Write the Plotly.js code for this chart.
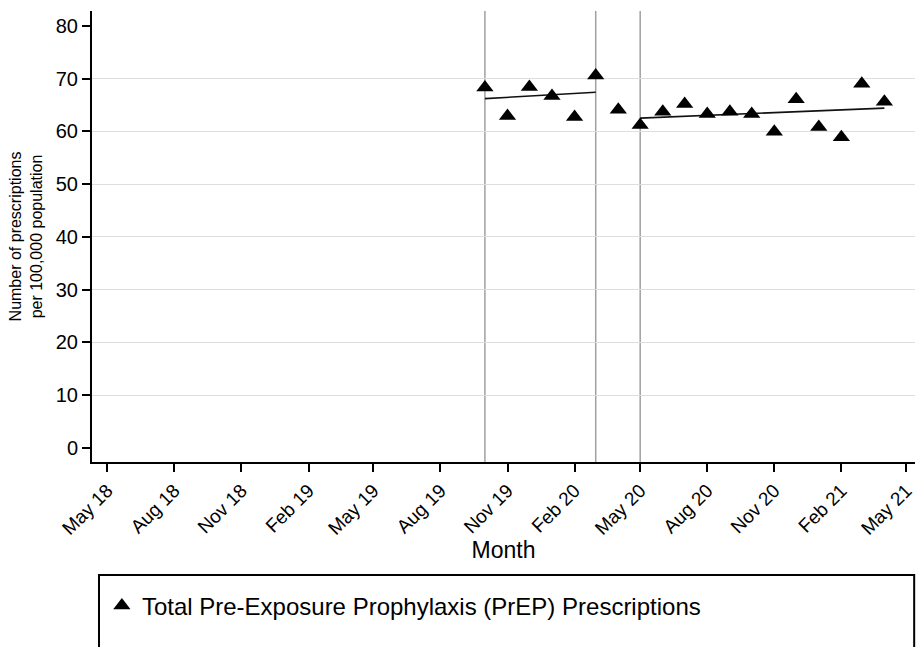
<!DOCTYPE html>
<html><head><meta charset="utf-8">
<script src="https://cdn.plot.ly/plotly-3.0.1.min.js"></script>
<style>html,body{margin:0;padding:0;background:#fff}#chart{width:916px;height:647px}</style>
</head><body><div id="chart"></div>
<script>
// ---- data ----
const months = ['2019-10-01','2019-11-01','2019-12-01','2020-01-01','2020-02-01','2020-03-01','2020-04-01',
  '2020-05-01','2020-06-01','2020-07-01','2020-08-01','2020-09-01','2020-10-01','2020-11-01','2020-12-01',
  '2021-01-01','2021-02-01','2021-03-01','2021-04-01'];
const prescriptions = [68.3, 62.9, 68.4, 66.7, 62.7, 70.6, 64.1, 61.2, 63.7, 65.2, 63.3, 63.7, 63.3, 59.9, 66.1,
  60.8, 58.9, 69.0, 65.6];
const trend1Months = ['2019-10-01','2020-03-01'];
const trend1Values = [66.2, 67.4];
const trend2Months = ['2020-05-01','2021-04-01'];
const trend2Values = [62.5, 64.4];
const interventionMonths = ['2019-10-01','2020-03-01','2020-05-01'];
const tickMonths = ['2018-05-01','2018-08-01','2018-11-01','2019-02-01','2019-05-01','2019-08-01','2019-11-01',
  '2020-02-01','2020-05-01','2020-08-01','2020-11-01','2021-02-01','2021-05-01'];
const tickLabels = ['May 18','Aug 18','Nov 18','Feb 19','May 19','Aug 19','Nov 19','Feb 20','May 20','Aug 20',
  'Nov 20','Feb 21','May 21'];
const yTicks = [0,10,20,30,40,50,60,70,80];
const gridTicks = [10,20,30,40,50,60,70];
const seriesName = 'Total Pre-Exposure Prophylaxis (PrEP) Prescriptions';

// ---- chart ----
const FONT = 'Liberation Sans, Arial, sans-serif';
const yRange = [-2.65, 82.8];
const traces = [
  {x: trend1Months, y: trend1Values, type: 'scatter', mode: 'lines', yaxis: 'y',
   line: {color: '#111', width: 1.6}, showlegend: false, hoverinfo: 'skip'},
  {x: trend2Months, y: trend2Values, type: 'scatter', mode: 'lines', yaxis: 'y',
   line: {color: '#111', width: 1.6}, showlegend: false, hoverinfo: 'skip'},
  {x: months, y: prescriptions, type: 'scatter', mode: 'markers', yaxis: 'y2', name: seriesName,
   marker: {symbol: 'triangle-up', size: 15, color: '#000'}}
];
const shapes = interventionMonths.map(d => ({
  type: 'line', xref: 'x', yref: 'paper', x0: d, x1: d, y0: 0, y1: 1,
  line: {color: '#a0a0a0', width: 1.5}, layer: 'below'
}));
shapes.push({type: 'rect', xref: 'paper', yref: 'paper', x0: 0.0085, x1: 0.999, y0: -0.2506, y1: -0.46,
  line: {color: '#000', width: 2}});

const layout = {
  width: 916, height: 647,
  margin: {l: 92, r: 1, t: 11, b: 185, autoexpand: false},
  paper_bgcolor: '#fff', plot_bgcolor: '#fff',
  font: {family: FONT, color: '#000'},
  showlegend: true,
  legend: {x: 0.012, xanchor: 'left', y: -0.319, yanchor: 'middle', bgcolor: 'rgba(0,0,0,0)',
    font: {family: FONT, size: 24, color: '#000'}},
  xaxis: {type: 'date', range: ['2018-04-10', '2021-05-13'], tickmode: 'array', tickvals: tickMonths,
    ticktext: tickLabels, tickangle: -45, ticks: 'outside', ticklen: 8, tickwidth: 2, tickcolor: '#000',
    ticklabeloverflow: 'allow',
    showline: true, linecolor: '#000', linewidth: 2, showgrid: false, zeroline: false,
    tickfont: {family: FONT, size: 19, color: '#000'},
    title: {text: 'Month', font: {family: FONT, size: 23, color: '#000'}, standoff: 0}},
  yaxis: {range: yRange, tickmode: 'array', tickvals: yTicks, ticks: 'outside', ticklen: 8, tickwidth: 2,
    tickcolor: '#000', showline: true, linecolor: '#000', linewidth: 2, showgrid: false, zeroline: false,
    tickfont: {family: FONT, size: 20, color: '#000'},
    title: {text: 'Number of prescriptions<br>per 100,000 population',
      font: {family: FONT, size: 16, color: '#000'}, standoff: 9}},
  yaxis2: {overlaying: 'y', side: 'left', range: yRange, tickmode: 'array', tickvals: gridTicks,
    showticklabels: false, ticks: '', showline: false, zeroline: false, showgrid: true,
    gridcolor: '#dedede', gridwidth: 1},
  shapes: shapes
};
Plotly.newPlot('chart', traces, layout, {displayModeBar: false, staticPlot: true});
</script>
</body></html>
